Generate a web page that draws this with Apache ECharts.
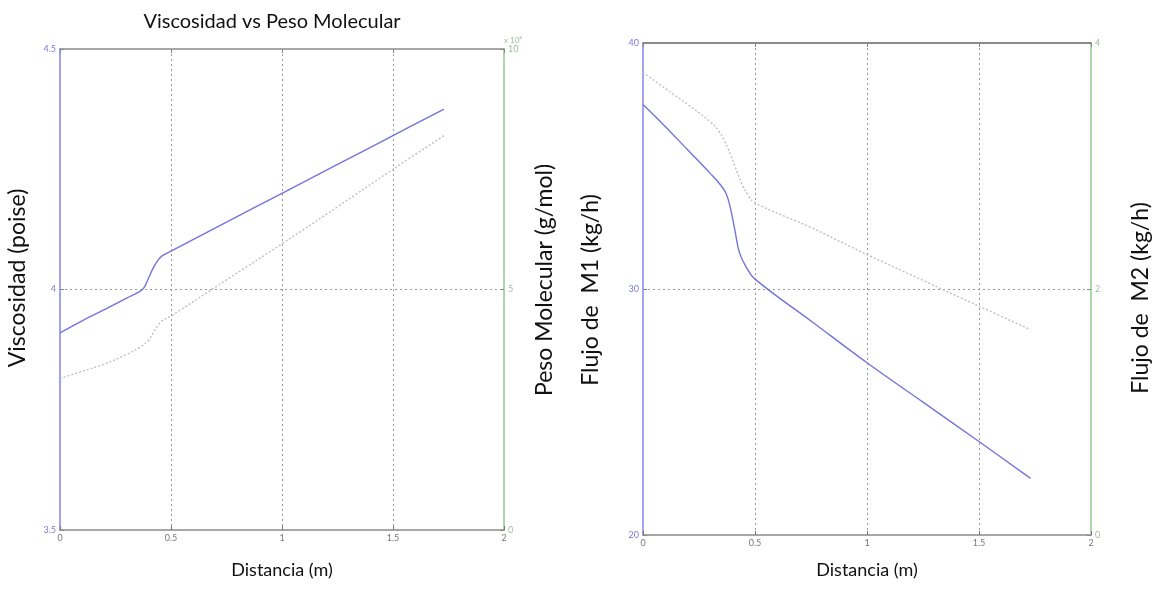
<!DOCTYPE html>
<html><head><meta charset="utf-8">
<script src="https://cdn.jsdelivr.net/npm/echarts@6/dist/echarts.min.js"></script>
<style>html,body{margin:0;padding:0;background:#fff}#c{width:1159px;height:594px}</style>
</head><body><div id="c"></div>
<script>
// ---- data ----
const distLeft = [0, 0.1, 0.2, 0.3, 0.36, 0.38, 0.40, 0.42, 0.44, 0.46, 0.5, 0.75, 1.0, 1.25, 1.5, 1.73];
const viscosidad = [3.91, 3.935, 3.958, 3.982, 3.996, 4.005, 4.025, 4.045, 4.06, 4.07, 4.08, 4.14, 4.2, 4.26, 4.32, 4.375];
const distLeft2 = [0, 0.1, 0.2, 0.3, 0.36, 0.40, 0.42, 0.44, 0.46, 0.5, 0.75, 1.0, 1.25, 1.5, 1.73];
const pesoMolecular = [3.15, 3.3, 3.45, 3.65, 3.8, 3.95, 4.1, 4.25, 4.35, 4.45, 5.2, 5.95, 6.72, 7.5, 8.2]; // x 10^4
const distRight = [0, 0.1, 0.2, 0.3, 0.34, 0.37, 0.39, 0.41, 0.43, 0.46, 0.5, 0.75, 1.0, 1.25, 1.5, 1.73];
const flujoM1 = [37.5, 36.6, 35.65, 34.7, 34.3, 33.9, 33.3, 32.4, 31.5, 30.9, 30.4, 28.7, 27.0, 25.4, 23.8, 22.3];
const distRight2 = [0, 0.1, 0.2, 0.3, 0.34, 0.38, 0.41, 0.44, 0.47, 0.5, 0.75, 1.0, 1.25, 1.5, 1.73];
const flujoM2 = [3.76, 3.63, 3.5, 3.36, 3.28, 3.14, 3.0, 2.86, 2.76, 2.7, 2.5, 2.28, 2.07, 1.86, 1.67];
const xTicks = [0, 0.5, 1, 1.5, 2];
const titleText = 'Viscosidad vs Peso Molecular';

const zip = (a, b) => a.map((v, i) => [v, b[i]]);
const FONT = 'Lato';
const blueAxis = '#8484ea', greenAxis = '#92c892', grayAxis = '#8a8a8a';
const gridDash = { color: '#9a9a9a', type: [2, 3], width: 1 };

function xAxes(gi, topColor) {
  return [{
    gridIndex: gi, type: 'value', min: 0, max: 2, interval: 0.5, position: 'bottom',
    axisLine: { show: true, lineStyle: { color: grayAxis, width: 1.5 } },
    axisTick: { show: true, inside: true, length: 4, lineStyle: { color: '#777' } },
    axisLabel: { fontSize: 9, color: '#777', margin: 4, fontFamily: FONT,
      formatter: v => xTicks.includes(v) ? String(v) : '' },
    splitLine: { show: true, showMinLine: false, showMaxLine: false, lineStyle: gridDash }
  }, {
    gridIndex: gi, type: 'value', min: 0, max: 2, interval: 0.5, position: 'top',
    axisLine: { show: true, lineStyle: { color: topColor, width: 1.5 } },
    axisTick: { show: true, inside: true, length: 4, lineStyle: { color: '#888' } },
    axisLabel: { show: false }, splitLine: { show: false }
  }];
}
function yAxis(gi, pos, min, max, interval, lineColor, labelColor, extra) {
  return Object.assign({
    gridIndex: gi, type: 'value', position: pos, min, max, interval,
    axisLine: { show: true, onZero: false, lineStyle: { color: lineColor, width: 1.5 } },
    axisTick: { show: true, inside: true, length: 4, lineStyle: { color: '#888' } },
    axisLabel: { fontSize: 9, color: labelColor, margin: 4, fontFamily: FONT },
    splitLine: { show: pos === 'left', showMinLine: false, showMaxLine: false, lineStyle: gridDash }
  }, extra || {});
}

const chart = echarts.init(document.getElementById('c'), null, { renderer: 'canvas' });
const txt = { fontFamily: FONT, fontSize: 23, fill: '#111' };
chart.setOption({
  animation: false,
  backgroundColor: '#fff',
  grid: [
    { left: 60, top: 49, width: 444, height: 481 },
    { left: 643, top: 43, width: 448, height: 492 }
  ],
  xAxis: [...xAxes(0, '#8a8a8a'), ...xAxes(1, '#666')],
  yAxis: [
    yAxis(0, 'left', 3.5, 4.5, 0.5, blueAxis, '#7a7ad8'),
    yAxis(0, 'right', 0, 10, 5, greenAxis, '#9bbf9b', {
      name: 'x 10\u2074', nameLocation: 'end', nameGap: 2,
      nameTextStyle: { fontSize: 8, color: '#9bbf9b', align: 'left', fontFamily: FONT }
    }),
    yAxis(1, 'left', 20, 40, 10, blueAxis, '#7a7ad8'),
    yAxis(1, 'right', 0, 4, 2, greenAxis, '#9bbf9b')
  ],
  series: [
    { type: 'line', xAxisIndex: 0, yAxisIndex: 0, data: zip(distLeft, viscosidad), smooth: 0.4,
      showSymbol: false, lineStyle: { color: '#7474dc', width: 1.4 } },
    { type: 'line', xAxisIndex: 0, yAxisIndex: 1, data: zip(distLeft2, pesoMolecular), smooth: 0.4,
      showSymbol: false, lineStyle: { color: '#bcbcbc', width: 1.3, type: [2, 2] } },
    { type: 'line', xAxisIndex: 2, yAxisIndex: 2, data: zip(distRight, flujoM1), smooth: 0.4,
      showSymbol: false, lineStyle: { color: '#7474dc', width: 1.4 } },
    { type: 'line', xAxisIndex: 2, yAxisIndex: 3, data: zip(distRight2, flujoM2), smooth: 0.4,
      showSymbol: false, lineStyle: { color: '#bcbcbc', width: 1.3, type: [2, 2] } }
  ],
  graphic: [
    { type: 'text', x: 272, y: 22, style: Object.assign({ text: titleText, align: 'center', verticalAlign: 'middle' }, txt, { fontSize: 20 }) },
    { type: 'text', x: 282, y: 570, style: Object.assign({ text: 'Distancia (m)', align: 'center', verticalAlign: 'middle' }, txt, { fontSize: 18 }) },
    { type: 'text', x: 867, y: 570, style: Object.assign({ text: 'Distancia (m)', align: 'center', verticalAlign: 'middle' }, txt, { fontSize: 18 }) },
    { type: 'text', x: 18, y: 278, rotation: Math.PI / 2, style: Object.assign({ text: 'Viscosidad (poise)', align: 'center', verticalAlign: 'middle' }, txt) },
    { type: 'text', x: 545, y: 280, rotation: Math.PI / 2, style: Object.assign({ text: 'Peso Molecular (g/mol)', align: 'center', verticalAlign: 'middle' }, txt) },
    { type: 'text', x: 591, y: 290, rotation: Math.PI / 2, style: Object.assign({ text: 'Flujo de  M1 (kg/h)', align: 'center', verticalAlign: 'middle' }, txt) },
    { type: 'text', x: 1141, y: 298, rotation: Math.PI / 2, style: Object.assign({ text: 'Flujo de  M2 (kg/h)', align: 'center', verticalAlign: 'middle' }, txt) }
  ]
});
</script></body></html>
